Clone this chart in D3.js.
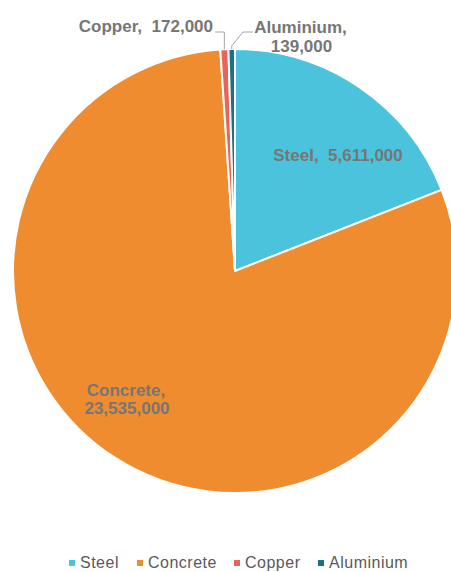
<!DOCTYPE html>
<html><head><meta charset="utf-8">
<script src="https://cdn.jsdelivr.net/npm/d3@7"></script>
<style>body{margin:0;background:#fff;overflow:hidden}svg{display:block;font-family:"Liberation Sans",Arial,sans-serif}text{white-space:pre}</style>
</head><body>
<svg id="c" width="451" height="572"></svg>
<script>
const categories = ["Steel", "Concrete", "Copper", "Aluminium"];
const values = [5611000, 23535000, 172000, 139000];
const colors = ["#4BC3DC", "#EE8C2F", "#E8645A", "#1B7286"];

const svg = d3.select("#c");
const cx = 235, cy = 271, R = 222;
const data = categories.map((c, i) => ({name: c, value: values[i], color: colors[i]}));
const pie = d3.pie().value(d => d.value).sort(null);
const arcs = pie(data);
const arc = d3.arc().innerRadius(0).outerRadius(R);
const g = svg.append("g").attr("transform", `translate(${cx},${cy})`);
g.selectAll("path").data(arcs).join("path")
  .attr("d", arc).attr("fill", d => d.data.color)
  .attr("stroke", "#fff").attr("stroke-width", 2).attr("stroke-linejoin", "round");

const fmt = d3.format(",");
function text(x, y, s, anchor) {
  return svg.append("text").attr("x", x).attr("y", y).attr("text-anchor", anchor || "middle")
    .attr("fill", "#767676").attr("font-weight", "bold").attr("font-size", "17px").text(s);
}
// Steel label
text(338, 161, `Steel,  ${fmt(values[0])}`);
// Concrete label
text(126, 396, "Concrete,");
text(127, 414, fmt(values[1]));
// Copper label with leader
text(213, 32, `Copper,  ${fmt(values[2])}`, "end");
const cop = arcs[2], alu = arcs[3];
const pOut = (a, r) => [cx + r * Math.sin(a), cy - r * Math.cos(a)];
const cm = pOut((cop.startAngle + cop.endAngle) / 2, R);
svg.append("path").attr("d", `M215,32 L${cm[0]},32 L${cm[0]},${cm[1]}`)
  .attr("fill", "none").attr("stroke", "#a6a6a6").attr("stroke-width", 1);
// Aluminium label with leader
text(300.5, 33, "Aluminium,");
text(301.5, 52, fmt(values[3]));
const am = pOut((alu.startAngle + alu.endAngle) / 2, R);
svg.append("path").attr("d", `M253,32 L243,32 L${am[0]},${am[1] - 3} L${am[0]},${am[1]}`)
  .attr("fill", "none").attr("stroke", "#a6a6a6").attr("stroke-width", 1);

// Legend
const legX = [69, 137, 234, 318];
const leg = svg.append("g");
data.forEach((d, i) => {
  leg.append("rect").attr("x", legX[i]).attr("y", 560).attr("width", 6).attr("height", 6).attr("fill", d.color);
  leg.append("text").attr("x", legX[i] + 11).attr("y", 567.5).attr("fill", "#595959")
    .attr("font-size", "16px").attr("letter-spacing", "0.5px").text(d.name);
});
</script>
</body></html>
